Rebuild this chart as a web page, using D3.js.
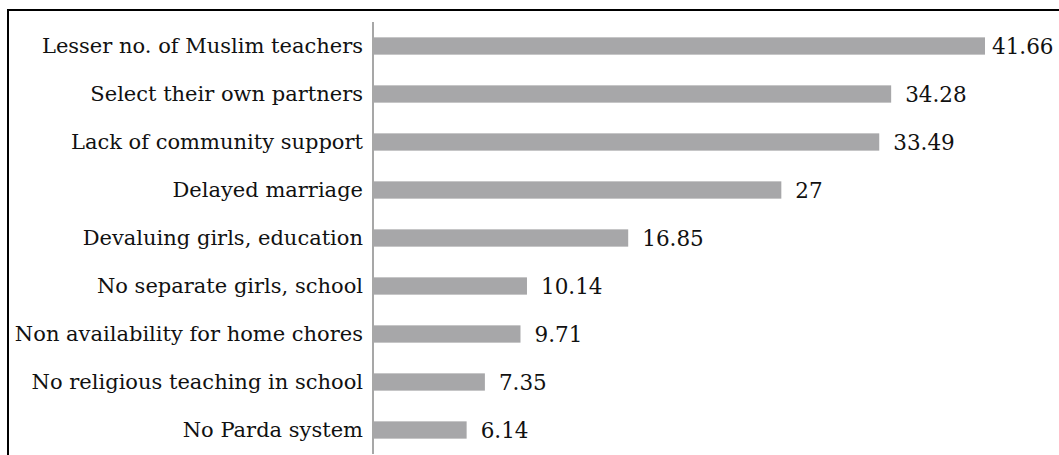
<!DOCTYPE html>
<html>
<head>
<meta charset="utf-8">
<script src="https://cdn.jsdelivr.net/npm/d3@7"></script>
<style>
  html, body { margin: 0; padding: 0; background: #fff; }
  svg { display: block; }
</style>
</head>
<body>
<script>
// Reasons reported for girls' school dropout (percent of respondents)
const categories = [
  "Lesser no. of Muslim teachers",
  "Select their own partners",
  "Lack of community support",
  "Delayed marriage",
  "Devaluing girls, education",
  "No separate girls, school",
  "Non availability for home chores",
  "No religious teaching in school",
  "No Parda system"
];
const values = [41.66, 34.28, 33.49, 27, 16.85, 10.14, 9.71, 7.35, 6.14];
const valueLabels = ["41.66", "34.28", "33.49", "27", "16.85", "10.14", "9.71", "7.35", "6.14"];

const W = 1059, H = 455;
const plot = { left: 374, right: 985, top: 22, bottom: 454 };
const axisMax = 40.5;

const svg = d3.select("body").append("svg")
  .attr("width", W).attr("height", H);

// outer frame (top and left edges visible)
svg.append("path")
  .attr("d", `M8,${H} L8,10 L${W},10`)
  .attr("fill", "none")
  .attr("stroke", "#000")
  .attr("stroke-width", 2);

const x = d3.scaleLinear()
  .domain([0, axisMax])
  .range([plot.left, plot.right])
  .clamp(true);

const y = d3.scaleBand()
  .domain(categories)
  .range([plot.top, plot.bottom])
  .paddingInner(0.64)
  .paddingOuter(0.32);

const rows = categories.map((c, i) => ({ cat: c, v: values[i], label: valueLabels[i] }));

// bars
svg.append("g").selectAll("rect")
  .data(rows)
  .join("rect")
  .attr("x", x(0))
  .attr("y", d => y(d.cat))
  .attr("width", d => x(d.v) - x(0))
  .attr("height", y.bandwidth())
  .attr("fill", "#a7a7a9");

// category axis
const yAxis = svg.append("g")
  .attr("transform", `translate(${plot.left - 1},0)`)
  .call(d3.axisLeft(y).tickSize(0).tickPadding(10));
yAxis.select(".domain")
  .attr("stroke", "#8a8a8a")
  .attr("stroke-width", 1.5)
  .attr("d", `M0,${plot.top}V${plot.bottom}`);
yAxis.selectAll("text")
  .attr("font-family", "'DejaVu Serif', serif")
  .attr("font-size", 21)
  .attr("fill", "#111");

// value labels
svg.append("g").selectAll("text")
  .data(rows)
  .join("text")
  .attr("x", d => x(d.v) + (d.v > axisMax ? 7 : 14))
  .attr("y", d => y(d.cat) + y.bandwidth() / 2)
  .attr("dy", "0.35em")
  .attr("font-family", "'DejaVu Serif', serif")
  .attr("font-size", 21.5)
  .attr("fill", "#111")
  .text(d => d.label);
</script>
</body>
</html>
